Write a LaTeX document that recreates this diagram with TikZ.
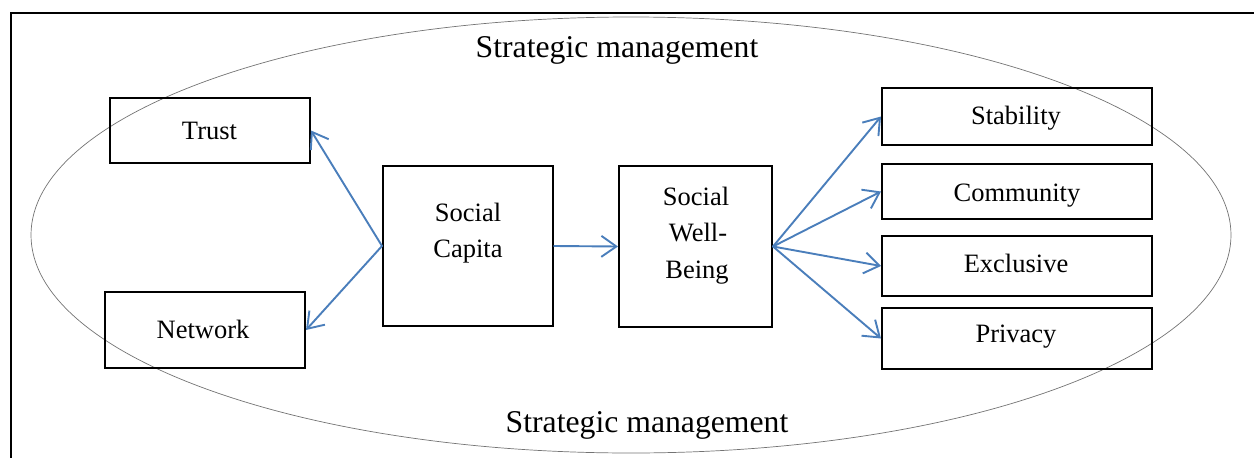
\documentclass[tikz,border=0pt]{standalone}
\usepackage{fontspec}
\setmainfont{Liberation Serif}
\usetikzlibrary{arrows.meta}
\definecolor{arrowblue}{RGB}{74,126,187}
\tikzset{
  box/.style={draw=black, line width=2pt, rectangle, inner sep=0pt},
  boxtext/.style={anchor=base, inner sep=0pt, font=\fontsize{26.5}{36}\selectfont},
  titletext/.style={anchor=base, inner sep=0pt, font=\fontsize{31.7}{38}\selectfont},
  conn/.style={draw=arrowblue, line width=1.9pt, line cap=round,
    -{Straight Barb[length=15pt,width=21pt]}},
  frameline/.style={draw=black, line width=2.2pt},
  ring/.style={draw=black!55, line width=0.7pt}
}
\begin{document}
\begin{tikzpicture}[x=1pt,y=-1pt]
\useasboundingbox (0,0) rectangle (1254,458);
% frame
\coordinate (fbl) at (11,460);
\coordinate (ftl) at (11,13);
\coordinate (ftr) at (1256,13);
\draw[frameline] (fbl) -- (ftl) -- (ftr);
% ellipse
\draw[ring] (631,235) ellipse [x radius=600, y radius=218];
% titles
\node[titletext] (toplabel) at (617,57) {Strategic management};
\node[titletext] (botlabel) at (647,432) {Strategic management};
% boxes
\node[box, minimum width=200pt, minimum height=65pt] (trust) at (210,130.5) {};
\node[box, minimum width=200pt, minimum height=76pt] (network) at (205,330) {};
\node[box, minimum width=170pt, minimum height=160pt] (capita) at (468,246) {};
\node[box, minimum width=153pt, minimum height=161pt] (swb) at (695.5,246.5) {};
\node[box, minimum width=270pt, minimum height=57pt] (stability) at (1017,116.5) {};
\node[box, minimum width=270pt, minimum height=55pt] (community) at (1017,191.5) {};
\node[box, minimum width=270pt, minimum height=60pt] (exclusive) at (1017,266) {};
\node[box, minimum width=270pt, minimum height=61pt] (privacy) at (1017,338.5) {};
% texts
\node[boxtext] (trusttxt) at (209.5,139) {Trust};
\node[boxtext] (networktxt) at (203,338) {Network};
\node[boxtext] (capitatxta) at (468,221) {Social};
\node[boxtext] (capitatxtb) at (468,257) {Capita};
\node[boxtext] (swbtxta) at (696,205) {Social};
\node[boxtext] (swbtxtb) at (698,241) {Well-};
\node[boxtext] (swbtxtc) at (697,278) {Being};
\node[boxtext] (stabtxt) at (1016,124) {Stability};
\node[boxtext] (commtxt) at (1017,201) {Community};
\node[boxtext] (excltxt) at (1016,272) {Exclusive};
\node[boxtext] (privtxt) at (1016,342) {Privacy};
% connectors
\draw[conn] (capita.west) -- (trust.east);
\draw[conn] (capita.west) -- (network.east);
\draw[conn] (capita.east) -- (swb.west);
\draw[conn] (swb.east) -- (stability.west);
\draw[conn] (swb.east) -- (community.west);
\draw[conn] (swb.east) -- (exclusive.west);
\draw[conn] (swb.east) -- (privacy.west);
\end{tikzpicture}
\end{document}
